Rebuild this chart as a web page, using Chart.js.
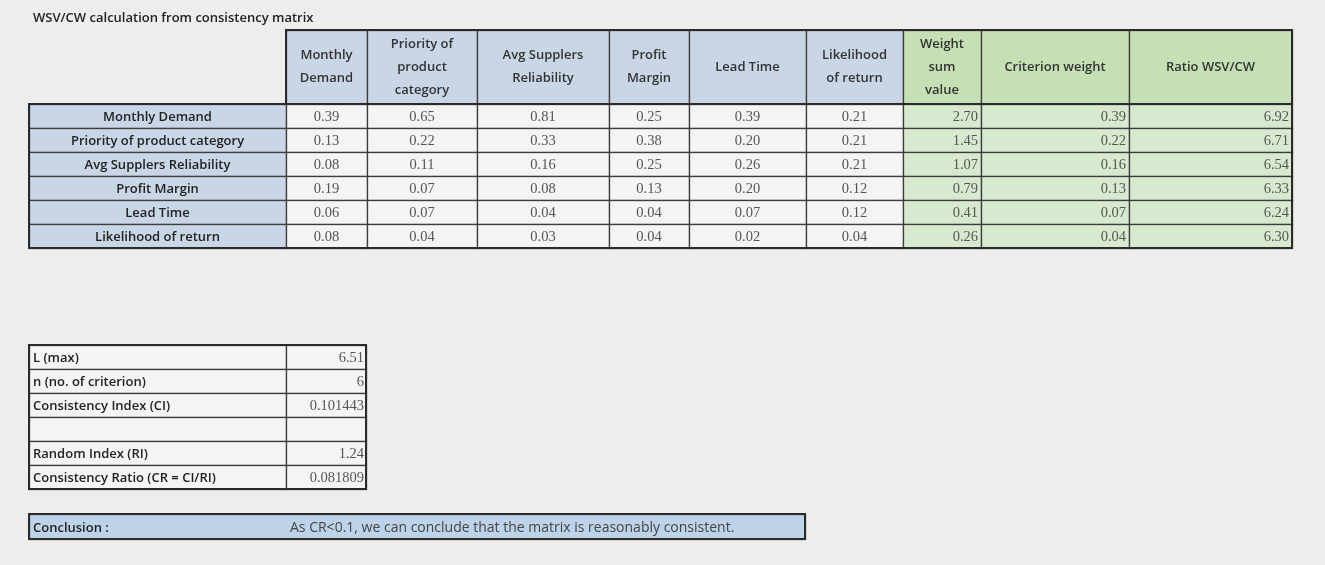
<!DOCTYPE html>
<html>
<head>
<meta charset="utf-8">
<script src="https://cdn.jsdelivr.net/npm/chart.js@4"></script>
<style>
  html, body { margin: 0; padding: 0; background: #ededeb; }
  #wrap { width: 1325px; height: 565px; }
</style>
</head>
<body>
<div id="wrap"><canvas id="chart1"></canvas></div>
<script>
const title = 'WSV/CW calculation from consistency matrix';
const colLabels = [
  ['Monthly', 'Demand'],
  ['Priority of', 'product', 'category'],
  ['Avg Supplers', 'Reliability'],
  ['Profit', 'Margin'],
  ['Lead Time'],
  ['Likelihood', 'of return'],
  ['Weight', 'sum', 'value'],
  ['Criterion weight'],
  ['Ratio WSV/CW']
];
const rowLabels = ['Monthly Demand', 'Priority of product category', 'Avg Supplers Reliability',
  'Profit Margin', 'Lead Time', 'Likelihood of return'];
const matrix = [
  [0.39, 0.65, 0.81, 0.25, 0.39, 0.21],
  [0.13, 0.22, 0.33, 0.38, 0.20, 0.21],
  [0.08, 0.11, 0.16, 0.25, 0.26, 0.21],
  [0.19, 0.07, 0.08, 0.13, 0.20, 0.12],
  [0.06, 0.07, 0.04, 0.04, 0.07, 0.12],
  [0.08, 0.04, 0.03, 0.04, 0.02, 0.04]
];
const weightSum = [2.70, 1.45, 1.07, 0.79, 0.41, 0.26];
const criterionWeight = [0.39, 0.22, 0.16, 0.13, 0.07, 0.04];
const ratio = [6.92, 6.71, 6.54, 6.33, 6.24, 6.30];
const summaryLabels = ['L (max)', 'n (no. of criterion)', 'Consistency Index (CI)', '', 'Random Index (RI)', 'Consistency Ratio (CR = CI/RI)'];
const summaryValues = ['6.51', '6', '0.101443', '', '1.24', '0.081809'];
const conclusionLabel = 'Conclusion :';
const conclusionText = 'As CR<0.1, we can conclude that the matrix is reasonably consistent.';

// layout in page units (mapped through the hidden linear scales)
const colEdges = [29, 286, 367, 477, 609, 689, 806, 903, 981, 1129, 1292];
const headTop = 30, headBottom = 104, rowH = 24;
const sumTop = 345, sumEdges = [29, 286, 366];
const concBox = [29, 514, 805, 539];

const BLUE = '#c8d6e5', GREEN_H = '#c6e0b6', GREEN = '#d7ead0', WHITE = '#f4f4f2', LINE = '#3c3c3c';

const tablePlugin = {
  id: 'table',
  afterDraw(chart) {
    const c = chart.ctx, xs = chart.scales.x, ys = chart.scales.y;
    const X = v => xs.getPixelForValue(v), Y = v => ys.getPixelForValue(v);
    const cell = (x0, y0, x1, y1, fill) => {
      c.fillStyle = fill;
      c.fillRect(X(x0), Y(y0), X(x1) - X(x0), Y(y1) - Y(y0));
      c.strokeStyle = LINE; c.lineWidth = 1.3;
      c.strokeRect(X(x0) + 0.5, Y(y0) + 0.5, X(x1) - X(x0), Y(y1) - Y(y0));
    };
    const frame = (x0, y0, x1, y1) => {
      c.strokeStyle = '#2a2a2a'; c.lineWidth = 2;
      c.strokeRect(X(x0), Y(y0), X(x1) - X(x0), Y(y1) - Y(y0));
    };
    const text = (s, x, y, font, color, align) => {
      c.font = font; c.fillStyle = color; c.textAlign = align; c.textBaseline = 'middle';
      c.fillText(s, X(x), Y(y));
    };
    const bold = '600 13px "Open Sans"', num = '14.5px "Liberation Serif"';
    c.save();
    text(title, 33, 18, bold, '#222', 'left');

    // header
    colLabels.forEach((lines, i) => {
      const x0 = colEdges[i + 1], x1 = colEdges[i + 2];
      cell(x0, headTop, x1, headBottom, i < 6 ? BLUE : GREEN_H);
      const mid = (headTop + headBottom) / 2, lh = 23;
      lines.forEach((l, k) => text(l, (x0 + x1) / 2, mid + (k - (lines.length - 1) / 2) * lh, bold, '#333', 'center'));
    });

    // body
    rowLabels.forEach((lab, r) => {
      const y0 = headBottom + r * rowH, y1 = y0 + rowH, ym = y0 + rowH / 2 + 1;
      cell(colEdges[0], y0, colEdges[1], y1, BLUE);
      text(lab, (colEdges[0] + colEdges[1]) / 2, ym, bold, '#222', 'center');
      matrix[r].forEach((v, j) => {
        const x0 = colEdges[j + 1], x1 = colEdges[j + 2];
        cell(x0, y0, x1, y1, WHITE);
        text(v.toFixed(2), (x0 + x1) / 2, ym, num, '#555', 'center');
      });
      [weightSum, criterionWeight, ratio].forEach((arr, k) => {
        const x0 = colEdges[7 + k], x1 = colEdges[8 + k];
        cell(x0, y0, x1, y1, GREEN);
        text(arr[r].toFixed(2), x1 - 3, ym, num, '#555', 'right');
      });
    });
    frame(colEdges[0], headBottom, colEdges[10], headBottom + 6 * rowH);
    frame(colEdges[1], headTop, colEdges[10], headBottom);

    // summary table
    summaryLabels.forEach((lab, r) => {
      const y0 = sumTop + r * rowH, y1 = y0 + rowH, ym = y0 + rowH / 2 + 1;
      cell(sumEdges[0], y0, sumEdges[1], y1, WHITE);
      cell(sumEdges[1], y0, sumEdges[2], y1, WHITE);
      text(lab, sumEdges[0] + 4, ym, bold, '#222', 'left');
      text(summaryValues[r], sumEdges[2] - 2, ym, num, '#555', 'right');
    });
    frame(sumEdges[0], sumTop, sumEdges[2], sumTop + 6 * rowH);

    // conclusion
    cell(concBox[0], concBox[1], concBox[2], concBox[3], '#bdd3e9');
    frame(concBox[0], concBox[1], concBox[2], concBox[3]);
    text(conclusionLabel, 33, 528, bold, '#222', 'left');
    text(conclusionText, 290, 528, '14px "Open Sans"', '#444', 'left');
    c.restore();
  }
};

new Chart(document.querySelector('#chart1'), {
  type: 'scatter',
  data: { datasets: [{ data: [] }] },
  options: {
    responsive: true, maintainAspectRatio: false, animation: false,
    layout: { padding: 0 },
    plugins: { legend: { display: false }, tooltip: { enabled: false } },
    scales: {
      x: { type: 'linear', min: 0, max: 1325, display: false },
      y: { type: 'linear', min: 0, max: 565, reverse: true, display: false }
    }
  },
  plugins: [tablePlugin]
});
</script>
</body>
</html>
